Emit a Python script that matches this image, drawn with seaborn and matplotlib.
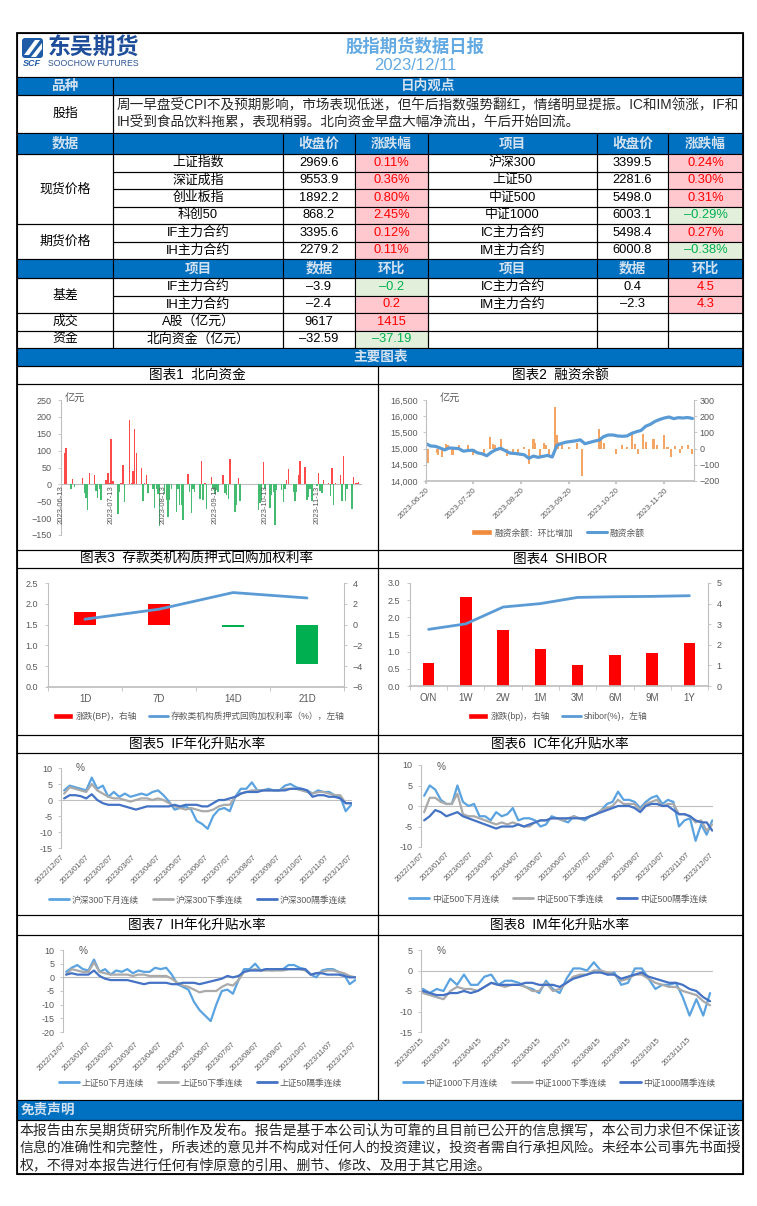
import numpy as np
import pandas as pd
import seaborn as sns
import matplotlib.pyplot as plt
import matplotlib.dates as mdates
from matplotlib.patches import Rectangle, Patch, Polygon, FancyBboxPatch
from matplotlib.lines import Line2D
from matplotlib.ticker import FuncFormatter

# ---------------- 表格数据 ----------------
report_title = '股指期货数据日报'
report_date = '2023/12/11'
view_lines = ['周一早盘受CPI不及预期影响，市场表现低迷，但午后指数强势翻红，情绪明显提振。IC和IM领涨，IF和',
              'IH受到食品饮料拖累，表现稍弱。北向资金早盘大幅净流出，午后开始回流。']

names_l = ['上证指数', '深证成指', '创业板指', '科创50', 'IF主力合约', 'IH主力合约']
close_l = ['2969.6', '9553.9', '1892.2', '868.2', '3395.6', '2279.2']
chg_l = ['0.11%', '0.36%', '0.80%', '2.45%', '0.12%', '0.11%']
names_r = ['沪深300', '上证50', '中证500', '中证1000', 'IC主力合约', 'IM主力合约']
close_r = ['3399.5', '2281.6', '5498.0', '6003.1', '5498.4', '6000.8']
chg_r = ['0.24%', '0.30%', '0.31%', '–0.29%', '0.27%', '–0.38%']

low_names_l = ['IF主力合约', 'IH主力合约', 'A股（亿元）', '北向资金（亿元）']
low_vals_l = ['–3.9', '–2.4', '9617', '–32.59']
low_chg_l = ['–0.2', '0.2', '1415', '–37.19']
low_names_r = ['IC主力合约', 'IM主力合约', '', '']
low_vals_r = ['0.4', '–2.3', '', '']
low_chg_r = ['4.5', '4.3', '', '']

disclaimer = ['本报告由东吴期货研究所制作及发布。报告是基于本公司认为可靠的且目前已公开的信息撰写，本公司力求但不保证该',
              '信息的准确性和完整性，所表述的意见并不构成对任何人的投资建议，投资者需自行承担风险。未经本公司事先书面授',
              '权，不得对本报告进行任何有悖原意的引用、删节、修改、及用于其它用途。']

# ---------------- 图表1 北向资金（亿元） ----------------
north_pre = [94, 107, -15, 17, -7, 20, -26, -40, -77, 35, 27, -21, -41, -13, -47, 12, 35, 4, 135, 11,
             -88, -23, 4, 58, -52, 192, 5, 39, 165, 94, 49, -50, 5, 27, -26, -13, -69, -13, -28, -123,
             -28, -47, -98, -47, -13, -83, -13, -62, -62, -107, 32, -23, -84, -13, -23, -42, 68, -47, 3, -72,
             22, -13, -28, -18, -23, 29, -26, -31, -44, 74, -82, -62, 19, -49]
north_post = [-76, -55, -47, 66, -15, -69, -30, -23, -119, -18, -16, -52, -13, 12, 46, -23, -50, -24, 27, 70,
              51, -47, -38, -13, -50, -5, 35, -21, -26, 14, 5, -33, 50, -62, 5, 29, -50, 84, -50, -13,
              -74, 22, 4, 5, 6]
north_ticks = ['2023-06-13', '2023-07-13', '2023-08-13', '2023-09-13', '2023-10-13', '2023-11-13']

# ---------------- 图表2 融资余额 ----------------
margin_balance = [15150, 15080, 15070, 15020, 14960, 15020, 15010, 15000, 14920, 14940,
                  14950, 14870, 14840, 14780, 14890, 14970, 15010, 14930, 14860, 14850,
                  14830, 14810, 14700, 14770, 14730, 14760, 14790, 14740, 15100, 15160,
                  15200, 15220, 15240, 15270, 15150, 15190, 15230, 15260, 15370, 15420,
                  15420, 15390, 15380, 15390, 15470, 15520, 15560, 15690, 15750, 15840,
                  15900, 15945, 15975, 15925, 15955, 15945, 15960, 15930]
margin_chg_days = ['06-20', '06-21', '06-27', '06-28', '06-30', '07-03', '07-04', '07-07', '07-11', '07-17',
                   '07-20', '07-21', '07-25', '07-27', '07-31', '08-02', '08-03', '08-07', '08-08', '08-11',
                   '08-15', '08-18', '08-22', '08-25', '08-28', '08-29', '09-01', '09-04', '09-05', '09-07',
                   '09-11', '09-12', '09-13', '09-15', '09-20', '09-25', '09-28', '10-09', '10-10', '10-12',
                   '10-20', '10-24', '10-27', '10-30', '11-01', '11-03', '11-06', '11-08', '11-13', '11-15',
                   '11-20', '11-22', '11-24', '11-27', '11-30', '12-01', '12-05', '12-08']
margin_chg = [24, -89, -25, -42, -52, 30, 20, -37, 20, 24,
              -42, -25, -5, -25, 72, 30, 20, 57, -17, -48,
              -25, -37, 12, -95, 61, 37, -45, 37, 20, -37,
              257, 86, 41, 20, 10, 37, -169, 123, 51, 37,
              -31, 20, 10, 92, 30, -35, 92, 41, 57, 20,
              82, 10, -50, 16, -25, 16, 20, -31]
margin_ticks = ['2023-06-20', '2023-07-20', '2023-08-20', '2023-09-20', '2023-10-20', '2023-11-20']

# ---------------- 图表3 / 图表4 ----------------
repo_terms = ['1D', '7D', '14D', '21D']
repo_rate = [1.63, 1.87, 2.27, 2.14]
repo_chg = [1.2, 2.0, -0.2, -3.8]

shibor_terms = ['O/N', '1W', '2W', '1M', '3M', '6M', '9M', '1Y']
shibor_rate = [1.65, 1.81, 2.30, 2.40, 2.58, 2.60, 2.61, 2.63]
shibor_chg = [1.1, 4.3, 2.7, 1.8, 1.0, 1.5, 1.6, 2.1]

# ---------------- 图表5-8 年化升贴水率（周度取值） ----------------
if_next_month = [3.0, 4.5, 4.0, 3.5, 3.0, 7.0, 3.5, 4.5, 1.0, 2.5, 1.0, 2.0, 1.0, 1.5, 2.0, 1.5, 2.5, 3.0,
                 1.5, -0.5, -3.0, -2.5, -2.0, -3.0, -6.5, -7.5, -9.0, -5.0, -3.0, -2.5, -3.5, 1.0, 3.5, 3.5,
                 5.5, 3.0, 3.0, 3.5, 3.0, 3.0, 4.5, 5.0, 4.0, 3.5, 3.0, 2.0, 3.0, 2.5, 2.5, 1.5, 1.0, -3.5, -1.5]
if_next_quarter = [2.0, 4.0, 3.5, 3.0, 2.5, 5.0, 3.0, 2.0, 1.0, 0.5, 0.5, 0.0, -0.5, 0.0, 0.5, 0.5, 0.0, 0.5,
                   0.0, -1.0, -2.0, -2.5, -3.0, -2.5, -3.0, -3.5, -3.5, -3.0, -2.0, -1.5, -1.5, 1.0, 2.0, 2.5,
                   3.0, 3.0, 3.0, 3.0, 3.0, 3.0, 3.5, 3.5, 3.5, 3.0, 2.5, 2.0, 2.5, 2.5, 2.0, 1.5, 1.5, -1.0, -1.0]
if_far_quarter = [0.5, 1.5, 1.5, 1.2, 0.5, 1.8, 0.0, -1.0, -1.5, -1.5, -1.5, -2.0, -2.5, -3.0, -2.5, -2.0, -2.0,
                  -2.0, -2.0, -2.0, -1.5, -2.0, -1.5, -1.5, -1.5, -2.0, -2.0, -1.0, 0.0, 0.0, 0.5, 1.0, 2.0, 2.5,
                  2.5, 2.5, 3.0, 3.0, 3.0, 3.0, 3.0, 3.5, 3.5, 3.5, 3.0, 1.0, 1.5, 1.5, 1.0, 1.0, 0.5, -1.0, -1.0]

ic_next_month = [2.5, 5.0, 4.0, 1.5, 0.5, 0.5, 5.0, 1.0, 0.0, 0.5, -2.5, -2.5, -3.5, -1.5, -2.5, -2.0, -0.5,
                 -3.5, -3.0, -3.0, -3.5, -5.0, -4.5, -2.5, -3.0, -3.5, -4.0, -2.5, -3.0, -3.5, -2.5, -2.0, -1.0,
                 0.5, 1.0, 3.5, 1.5, 1.5, 1.0, -0.5, 1.0, 2.0, 2.5, 0.5, 1.5, 1.0, -5.0, -3.5, -3.0, -8.5, -4.5,
                 -7.0, -3.5]
ic_next_quarter = [-1.5, 2.0, 2.0, 1.0, 0.5, 0.5, 3.0, -2.0, -2.5, -2.5, -3.0, -3.5, -4.0, -4.5, -4.0, -4.5,
                   -4.0, -4.5, -5.0, -5.0, -4.0, -3.5, -3.5, -3.0, -3.0, -3.5, -3.0, -2.5, -3.0, -3.0, -2.5, -2.0,
                   -1.0, -0.5, 0.0, 1.5, 0.5, 0.5, 0.5, -1.0, 0.5, 1.0, 1.5, 0.0, 0.5, 0.5, -2.0, -2.0, -2.5, -4.0,
                   -3.5, -6.0, -4.5]
ic_far_quarter = [-3.5, -2.5, -1.0, -1.5, -2.5, -2.0, -1.5, -2.5, -3.0, -3.5, -4.0, -4.5, -5.0, -5.5, -5.0, -5.0,
                  -5.0, -4.5, -5.0, -4.5, -4.0, -3.5, -3.5, -3.0, -3.0, -3.0, -3.0, -3.0, -3.0, -3.0, -2.5, -2.0,
                  -1.5, -1.0, -0.5, 0.0, 0.0, 0.0, -0.5, -1.5, 0.0, 0.5, 0.5, 0.0, 0.0, -1.0, -2.0, -2.0, -2.5,
                  -3.5, -4.0, -4.0, -6.0]

ih_next_month = [2.0, 3.5, 4.5, 3.0, 2.5, 6.5, 2.0, 3.0, 1.0, 2.5, 2.0, 3.0, 1.5, 2.5, 2.0, 2.0, 3.5, 3.0, 3.5,
                 1.0, -2.5, -3.5, -4.5, -9.0, -12.0, -14.0, -16.0, -10.0, -5.0, -4.5, -6.0, -1.0, 3.0, 3.0, 5.0,
                 2.5, 3.0, 2.5, 3.0, 3.0, 4.5, 4.5, 3.5, 3.0, 1.0, 0.0, 2.5, 3.0, 3.0, 2.0, 1.0, -2.5, -1.0]
ih_next_quarter = [1.0, 3.0, 2.5, 2.0, 2.0, 5.5, 2.0, 1.5, 1.0, 1.0, 1.0, 1.0, 0.5, 1.0, 1.0, 0.5, 0.5, 0.5, 0.5,
                   -0.5, -2.0, -3.0, -3.5, -4.5, -5.5, -5.0, -5.0, -5.0, -3.5, -2.5, -3.0, -1.0, 2.0, 2.5, 3.0,
                   2.5, 2.5, 2.5, 2.5, 2.5, 3.0, 3.0, 3.0, 2.5, 1.0, 1.5, 2.0, 2.5, 2.5, 2.0, 1.5, 0.5, 0.0]
ih_far_quarter = [1.0, 1.5, 1.0, 1.0, 1.0, 2.5, 0.5, -0.5, -1.0, -1.0, -1.0, -1.0, -1.5, -2.0, -2.5, -2.0, -2.0,
                  -2.0, -2.0, -2.5, -2.5, -2.0, -2.0, -2.0, -2.5, -2.0, -1.5, -1.0, -0.5, 0.5, 0.0, 0.5, 2.0, 2.5,
                  2.5, 2.5, 3.0, 3.0, 3.0, 3.0, 3.0, 3.0, 3.0, 3.0, 1.0, 1.5, 1.5, 1.0, 1.0, 1.0, 0.5, 0.0, 0.0]

im_next_month = [-4.5, -5.5, -4.5, -5.0, -2.0, -3.5, -1.0, -3.5, -3.5, -1.5, -1.0, -3.5, -2.5, -2.5, -3.0, -4.0,
                 -4.5, -5.5, -2.5, -4.5, -5.5, -2.0, 0.5, 0.5, 0.0, 2.0, 0.0, -1.0, -0.5, -3.5, -3.0, 0.5, 0.5,
                 -2.0, -4.5, -3.5, -3.5, -3.0, -6.5, -11.0, -7.0, -11.0, -5.5]
im_next_quarter = [-5.5, -6.0, -6.5, -7.0, -5.0, -4.0, -4.5, -4.5, -5.0, -4.0, -3.0, -3.5, -4.0, -3.5, -3.5, -4.0,
                   -5.0, -5.0, -3.0, -5.0, -4.5, -3.0, -1.5, -1.0, -1.0, 0.0, 0.0, -0.5, -1.0, -2.5, -2.0, -1.0,
                   -1.0, -2.0, -3.0, -3.5, -4.0, -4.0, -5.0, -5.5, -6.0, -7.5, -8.5]
im_far_quarter = [-5.0, -5.5, -6.0, -6.0, -5.5, -5.5, -5.0, -5.5, -5.0, -4.0, -3.0, -3.5, -3.5, -3.5, -3.5, -3.0,
                  -3.0, -3.5, -3.5, -3.5, -4.0, -3.0, -2.0, -1.5, -1.0, -0.5, -0.5, -1.0, -1.0, -2.0, -1.5, -1.0,
                  -0.5, -1.5, -2.0, -2.5, -3.0, -3.0, -3.5, -4.5, -5.0, -6.5, -7.5]

year_ticks = ['2022/12/07', '2023/01/07', '2023/02/07', '2023/03/07', '2023/04/07', '2023/05/07', '2023/06/07',
              '2023/07/07', '2023/08/07', '2023/09/07', '2023/10/07', '2023/11/07', '2023/12/07']
im_ticks = ['2023/02/15', '2023/03/15', '2023/04/15', '2023/05/15', '2023/06/15', '2023/07/15',
            '2023/08/15', '2023/09/15', '2023/10/15', '2023/11/15']

# ---------------- 样式 ----------------
sns.set_theme(style='white')
plt.rcParams['font.family'] = ['Liberation Sans', 'Noto Sans CJK SC']
plt.rcParams['axes.unicode_minus'] = True

BLUE = '#0070C0'
HTXT = '#D3E2F1'
GRAY = '#BFBFBF'
TICK = '#595959'
RED_F, RED_T = '#FFC7CE', '#FF0000'
GRN_F, GRN_T = '#E2EFDA', '#00B050'
C_MONTH, C_QTR, C_FAR = '#5BA3E0', '#AAAAAA', '#4472C4'

W, H = 757, 1206
fig = plt.figure(figsize=(W / 100, H / 100), dpi=100)
page = fig.add_axes([0, 0, 1, 1])
page.set_xlim(0, W)
page.set_ylim(H, 0)
page.axis('off')


def rect(x0, y0, x1, y1, fc='none', lw=0.8):
    page.add_patch(Rectangle((x0, y0), x1 - x0, y1 - y0, facecolor=fc, edgecolor='black', linewidth=lw))


def txt(x, y, s, size=9.3, color='black', ha='center', weight='normal'):
    page.text(x, y, s, fontsize=size, color=color, ha=ha, va='center', fontweight=weight)


def ftxt(x, y, s, size=7, color=TICK, ha='left'):
    fig.text(x / W, 1 - y / H, s, fontsize=size, color=color, ha=ha, va='center')


# ---- 表头
rect(17, 33, 743, 77)
page.add_patch(FancyBboxPatch((22, 38), 21, 20, boxstyle='round,pad=0,rounding_size=3',
                              facecolor='#1F5CA8', edgecolor='none'))
page.add_patch(Polygon([(24, 55), (35, 40), (40, 40), (29, 55)], facecolor='white', edgecolor='none'))
page.add_patch(Polygon([(31, 57), (42, 43), (42, 49), (36, 57)], facecolor='white', edgecolor='none'))
page.text(32, 64, 'SCF', fontsize=6.5, color='#1F5CA8', ha='center', va='center', fontweight='bold', style='italic')
page.text(48, 48, '东吴期货', fontsize=16.5, color='#1E4E9A', ha='left', va='center', fontweight='bold')
page.text(48, 64, 'SOOCHOW FUTURES', fontsize=6.3, color='#2F5597', ha='left', va='center')
txt(415, 46, report_title, size=12.5, color='#63A9E2', weight='bold')
txt(415, 65, report_date, size=12, color='#63A9E2')

COLS = [17, 113, 283, 355, 428, 597, 668, 743]


def ctr(i):
    return (COLS[i] + COLS[i + 1]) / 2


rect(17, 77, 113, 95, BLUE)
rect(113, 77, 743, 95, BLUE)
txt(65, 86, '品种', color=HTXT, weight='bold', size=9.8)
txt(428, 86, '日内观点', color=HTXT, weight='bold', size=9.8)
rect(17, 95, 113, 133)
rect(113, 95, 743, 133)
txt(65, 114, '股指')
page.text(117, 105, view_lines[0], fontsize=9.8, ha='left', va='center')
page.text(117, 122, view_lines[1], fontsize=9.8, ha='left', va='center')

hdr1 = ['数据', '', '收盘价', '涨跌幅', '项目', '收盘价', '涨跌幅']
for i, h in enumerate(hdr1):
    rect(COLS[i], 133, COLS[i + 1], 154, BLUE)
    txt(ctr(i), 143.5, h, color=HTXT, weight='bold', size=9.8)


def chg_cell(i, y0, y1, s):
    if s == '':
        rect(COLS[i], y0, COLS[i + 1], y1)
        return
    neg = s.startswith('–')
    rect(COLS[i], y0, COLS[i + 1], y1, GRN_F if neg else RED_F)
    txt(ctr(i), (y0 + y1) / 2, s, color=GRN_T if neg else RED_T)


RH = 17.5
for r in range(6):
    y0, y1 = 154 + RH * r, 154 + RH * (r + 1)
    rect(COLS[1], y0, COLS[2], y1)
    txt(ctr(1), (y0 + y1) / 2, names_l[r])
    rect(COLS[2], y0, COLS[3], y1)
    txt(ctr(2), (y0 + y1) / 2, close_l[r])
    chg_cell(3, y0, y1, chg_l[r])
    rect(COLS[4], y0, COLS[5], y1)
    txt(ctr(4), (y0 + y1) / 2, names_r[r])
    rect(COLS[5], y0, COLS[6], y1)
    txt(ctr(5), (y0 + y1) / 2, close_r[r])
    chg_cell(6, y0, y1, chg_r[r])
rect(17, 154, 113, 154 + 4 * RH)
txt(65, 154 + 2 * RH, '现货价格')
rect(17, 154 + 4 * RH, 113, 154 + 6 * RH)
txt(65, 154 + 5 * RH, '期货价格')

hdr2 = ['', '项目', '数据', '环比', '项目', '数据', '环比']
for i, h in enumerate(hdr2):
    rect(COLS[i], 259, COLS[i + 1], 278, BLUE)
    txt(ctr(i), 268.5, h, color=HTXT, weight='bold', size=9.8)

for r in range(4):
    y0, y1 = 278 + RH * r, 278 + RH * (r + 1)
    rect(COLS[1], y0, COLS[2], y1)
    txt(ctr(1), (y0 + y1) / 2, low_names_l[r])
    rect(COLS[2], y0, COLS[3], y1)
    txt(ctr(2), (y0 + y1) / 2, low_vals_l[r])
    chg_cell(3, y0, y1, low_chg_l[r])
    rect(COLS[4], y0, COLS[5], y1)
    txt(ctr(4), (y0 + y1) / 2, low_names_r[r])
    rect(COLS[5], y0, COLS[6], y1)
    txt(ctr(5), (y0 + y1) / 2, low_vals_r[r])
    chg_cell(6, y0, y1, low_chg_r[r])
rect(17, 278, 113, 278 + 2 * RH)
txt(65, 278 + RH, '基差')
rect(17, 278 + 2 * RH, 113, 278 + 3 * RH)
txt(65, 278 + 2.5 * RH, '成交')
rect(17, 278 + 3 * RH, 113, 278 + 4 * RH)
txt(65, 278 + 3.5 * RH, '资金')

rect(17, 348, 743, 366, BLUE)
txt(380, 357, '主要图表', color=HTXT, weight='bold', size=9.8)

chart_titles = ['图表1  北向资金', '图表2  融资余额', '图表3  存款类机构质押式回购加权利率', '图表4  SHIBOR',
                '图表5  IF年化升贴水率', '图表6  IC年化升贴水率', '图表7  IH年化升贴水率', '图表8  IM年化升贴水率']
rows = [(366, 384, 550), (550, 568, 735), (735, 753, 915), (915, 935, 1100)]
for k, (a, b, c) in enumerate(rows):
    rect(17, a, 378, b)
    rect(378, a, 743, b)
    rect(17, b, 378, c)
    rect(378, b, 743, c)
    txt(197, (a + b) / 2, chart_titles[2 * k], size=9.8)
    txt(560, (a + b) / 2, chart_titles[2 * k + 1], size=9.8)

rect(17, 1100, 743, 1120, BLUE)
txt(21, 1110, '免责声明', color=HTXT, weight='bold', ha='left', size=9.8)
rect(17, 1120, 743, 1174)
for i, line in enumerate(disclaimer):
    page.text(20, 1130 + 17.5 * i, line, fontsize=10, ha='left', va='center')
rect(17, 33, 743, 1174, lw=1.3)


# ---------------- 图表工具 ----------------
def px_axes(x0, y0, x1, y1):
    ax = fig.add_axes([x0 / W, 1 - y1 / H, (x1 - x0) / W, (y1 - y0) / H])
    ax.patch.set_visible(False)
    for s in ax.spines.values():
        s.set_visible(False)
    ax.grid(False)
    ax.set_xlabel('')
    ax.set_ylabel('')
    return ax


def style_y(ax, side='left', pad=4):
    ax.spines[side].set_visible(True)
    ax.spines[side].set_color(GRAY)
    ax.spines[side].set_linewidth(0.8)
    kw = {side: True}
    ax.tick_params(axis='y', length=2, width=0.6, color=GRAY, labelcolor=TICK, labelsize=6.5,
                   pad=pad, direction='out', **kw)
    ax.set_ylabel('')


def fig_legend(ax, handles, labels, cx, cy, hl=2.3, cs=1.6):
    ax.legend(handles, labels, loc='center', bbox_to_anchor=(cx / W, 1 - cy / H),
              bbox_transform=fig.transFigure, ncol=len(handles), frameon=False, fontsize=6.3,
              handlelength=hl, handletextpad=0.3, columnspacing=cs, borderpad=0, labelcolor=TICK)


# ---- 图表1
hol = pd.to_datetime(['2023-06-22', '2023-06-23'])
d_pre = pd.bdate_range('2023-06-15', '2023-09-28')
d_pre = d_pre[~d_pre.isin(hol)]
d_post = pd.bdate_range('2023-10-09', '2023-12-08')
north_dates = d_pre.append(d_post)
north_flow = north_pre + north_post

ax1 = px_axes(61, 400, 362, 535)
ax1.bar(north_dates, north_flow, width=0.85, linewidth=0,
        color=['#FF4A4A' if v > 0 else '#45BB72' for v in north_flow])
ax1.axhline(0, color=GRAY, lw=0.8, zorder=0)
ax1.set_ylim(-150, 250)
ax1.set_yticks(range(-150, 251, 50))
ax1.set_xlim(pd.Timestamp('2023-06-13'), pd.Timestamp('2023-12-10'))
ax1.set_xticks([])
style_y(ax1, pad=5)
for d in north_ticks:
    ax1.text(mdates.date2num(pd.Timestamp(d)), -4, d, rotation=90, ha='center', va='top',
             fontsize=5.5, color=TICK)
ftxt(65, 398, '亿元', size=7.3)

# ---- 图表2
ax2 = px_axes(426, 400, 694, 481)
ax2r = ax2.twinx()
ax2r.patch.set_visible(False)
for s in ax2r.spines.values():
    s.set_visible(False)
ax2r.bar(pd.to_datetime(['2023-' + d for d in margin_chg_days]), margin_chg, width=1.3,
         color='#F5A563', linewidth=0)
line_dates = pd.date_range('2023-06-20', periods=len(margin_balance), freq='3D')
sns.lineplot(x=line_dates, y=margin_balance, ax=ax2, color='#5B9BD5', linewidth=2.3)
ax2.set_zorder(ax2r.get_zorder() + 1)
ax2.set_ylim(14000, 16500)
ax2.set_yticks(range(14000, 16501, 500))
ax2.yaxis.set_major_formatter(FuncFormatter(lambda v, p: f'{v:,.0f}'))
ax2r.set_ylim(-200, 300)
ax2r.set_yticks(range(-200, 301, 100))
ax2.set_xlim(pd.Timestamp('2023-06-20'), pd.Timestamp('2023-12-09'))
style_y(ax2, pad=4)
style_y(ax2r, side='right', pad=2)
ax2.spines['bottom'].set_visible(True)
ax2.spines['bottom'].set_color(GRAY)
ax2.set_xticks(pd.to_datetime(margin_ticks))
ax2.set_xticklabels(margin_ticks, rotation=45, ha='right', rotation_mode='anchor', fontsize=5.8, color=TICK)
ax2.tick_params(axis='x', bottom=True, length=2, color=GRAY, pad=2)
ax2.set_xlabel('')
ftxt(440, 398, '亿元', size=7.3)
fig_legend(ax2, [Patch(facecolor='#F08A3C'), Line2D([], [], color='#5B9BD5', lw=2.2)],
           ['融资余额：环比增加', '融资余额'], 558, 533)


# ---- 图表3 / 图表4
def rate_chart(box, terms, rate, chg, llim, lticks, rlim, rticks, bar_w, labels, leg_x):
    ax = px_axes(*box)
    axr = ax.twinx()
    axr.patch.set_visible(False)
    for s in axr.spines.values():
        s.set_visible(False)
    cols = ['#FF0000' if v >= 0 else '#00B050' for v in chg]
    sns.barplot(x=terms, y=chg, hue=terms, palette=cols, width=bar_w, saturation=1, ax=axr, legend=False,
                linewidth=0)
    sns.lineplot(x=terms, y=rate, ax=ax, color='#5B9BD5', linewidth=2.0, sort=False)
    ax.set_zorder(axr.get_zorder() + 1)
    ax.patch.set_visible(False)
    ax.set_xlim(-0.5, len(terms) - 0.5)
    ax.set_ylim(*llim)
    ax.set_yticks(lticks)
    ax.yaxis.set_major_formatter(FuncFormatter(lambda v, p: f'{v:.1f}'))
    axr.set_ylim(*rlim)
    axr.set_yticks(rticks)
    style_y(ax, pad=5)
    style_y(axr, side='right', pad=4)
    axr.set_ylabel('')
    ax.spines['bottom'].set_visible(True)
    ax.spines['bottom'].set_color(GRAY)
    ax.set_xticks(range(len(terms)))
    ax.set_xticklabels(terms, fontsize=7, color=TICK)
    ax.set_xticks(np.arange(-0.5, len(terms), 1.0), minor=True)
    ax.tick_params(axis='x', which='major', length=0, pad=5)
    ax.tick_params(axis='x', which='minor', bottom=True, length=3, color=GRAY, width=0.6)
    ax.set_xlabel('')
    fig_legend(ax, [Patch(facecolor='#FF0000'), Line2D([], [], color='#5B9BD5', lw=2.0)],
               labels, leg_x, 716, hl=2.2, cs=1.4)
    return ax


rate_chart((48, 583, 344, 687), repo_terms, repo_rate, repo_chg, (0, 2.5), np.arange(0, 2.51, 0.5),
           (-6, 4), range(-6, 5, 2), 0.3, ['涨跌(BP)，右轴', '存款类机构质押式回购加权利率（%），左轴'], 199)
rate_chart((410, 583, 708, 686), shibor_terms, shibor_rate, shibor_chg, (0, 3), np.arange(0, 3.01, 0.5),
           (0, 5), range(0, 6), 0.31, ['涨跌(bp)，右轴', 'shibor(%)，左轴'], 558)


# ---- 图表5-8
def basis_chart(box, dates, series, names, ylim, yticks, tick_txt, xstart, leg_xy, unit_xy, label_pad):
    ax = px_axes(*box)
    for vals, c in zip(series, [C_MONTH, C_QTR, C_FAR]):
        sns.lineplot(x=dates, y=vals, ax=ax, color=c, linewidth=1.6)
    ax.axhline(0, color=GRAY, lw=0.8, zorder=0)
    ax.set_ylim(*ylim)
    ax.set_yticks(yticks)
    ax.yaxis.set_major_formatter(FuncFormatter(lambda v, p: f'{v:.0f}'))
    ax.set_xlim(pd.Timestamp(xstart), pd.Timestamp('2023-12-11'))
    style_y(ax, pad=4)
    ax.set_xticks(pd.to_datetime(tick_txt))
    ax.set_xticklabels(tick_txt, rotation=45, ha='right', rotation_mode='anchor', fontsize=5.5, color=TICK)
    ax.tick_params(axis='x', length=0, pad=label_pad)
    ax.set_xlabel('')
    handles = [Line2D([], [], color=c, lw=2.0) for c in [C_MONTH, C_QTR, C_FAR]]
    fig_legend(ax, handles, names, *leg_xy)
    ftxt(unit_xy[0], unit_xy[1], '%', size=7.3)


wk = pd.date_range('2022-12-11', periods=len(if_next_month), freq='7D')
wk_im = pd.date_range('2023-02-17', periods=len(im_next_month), freq='7D')

basis_chart((61, 768, 352, 848), wk, [if_next_month, if_next_quarter, if_far_quarter],
            ['沪深300下月连续', '沪深300下季连续', '沪深300隔季连续'], (-15, 10), range(-15, 11, 5),
            year_ticks, '2022-12-07', (198, 900), (76, 768), 4)
basis_chart((421, 765, 713, 847), wk, [ic_next_month, ic_next_quarter, ic_far_quarter],
            ['中证500下月连续', '中证500下季连续', '中证500隔季连续'], (-10, 10), range(-10, 11, 5),
            year_ticks, '2022-12-07', (558, 899), (437, 767), 3)
basis_chart((63, 950, 356, 1032), wk, [ih_next_month, ih_next_quarter, ih_far_quarter],
            ['上证50下月连续', '上证50下季连续', '上证50隔季连续'], (-20, 10), range(-20, 11, 5),
            year_ticks, '2022-12-07', (200, 1083), (79, 951), 6)
basis_chart((421, 950, 713, 1032), wk_im, [im_next_month, im_next_quarter, im_far_quarter],
            ['中证1000下月连续', '中证1000下季连续', '中证1000隔季连续'], (-15, 5), range(-15, 6, 5),
            im_ticks, '2023-02-15', (559, 1083), (437, 951), 3)

fig.savefig('out.png', dpi=100, facecolor='white')
